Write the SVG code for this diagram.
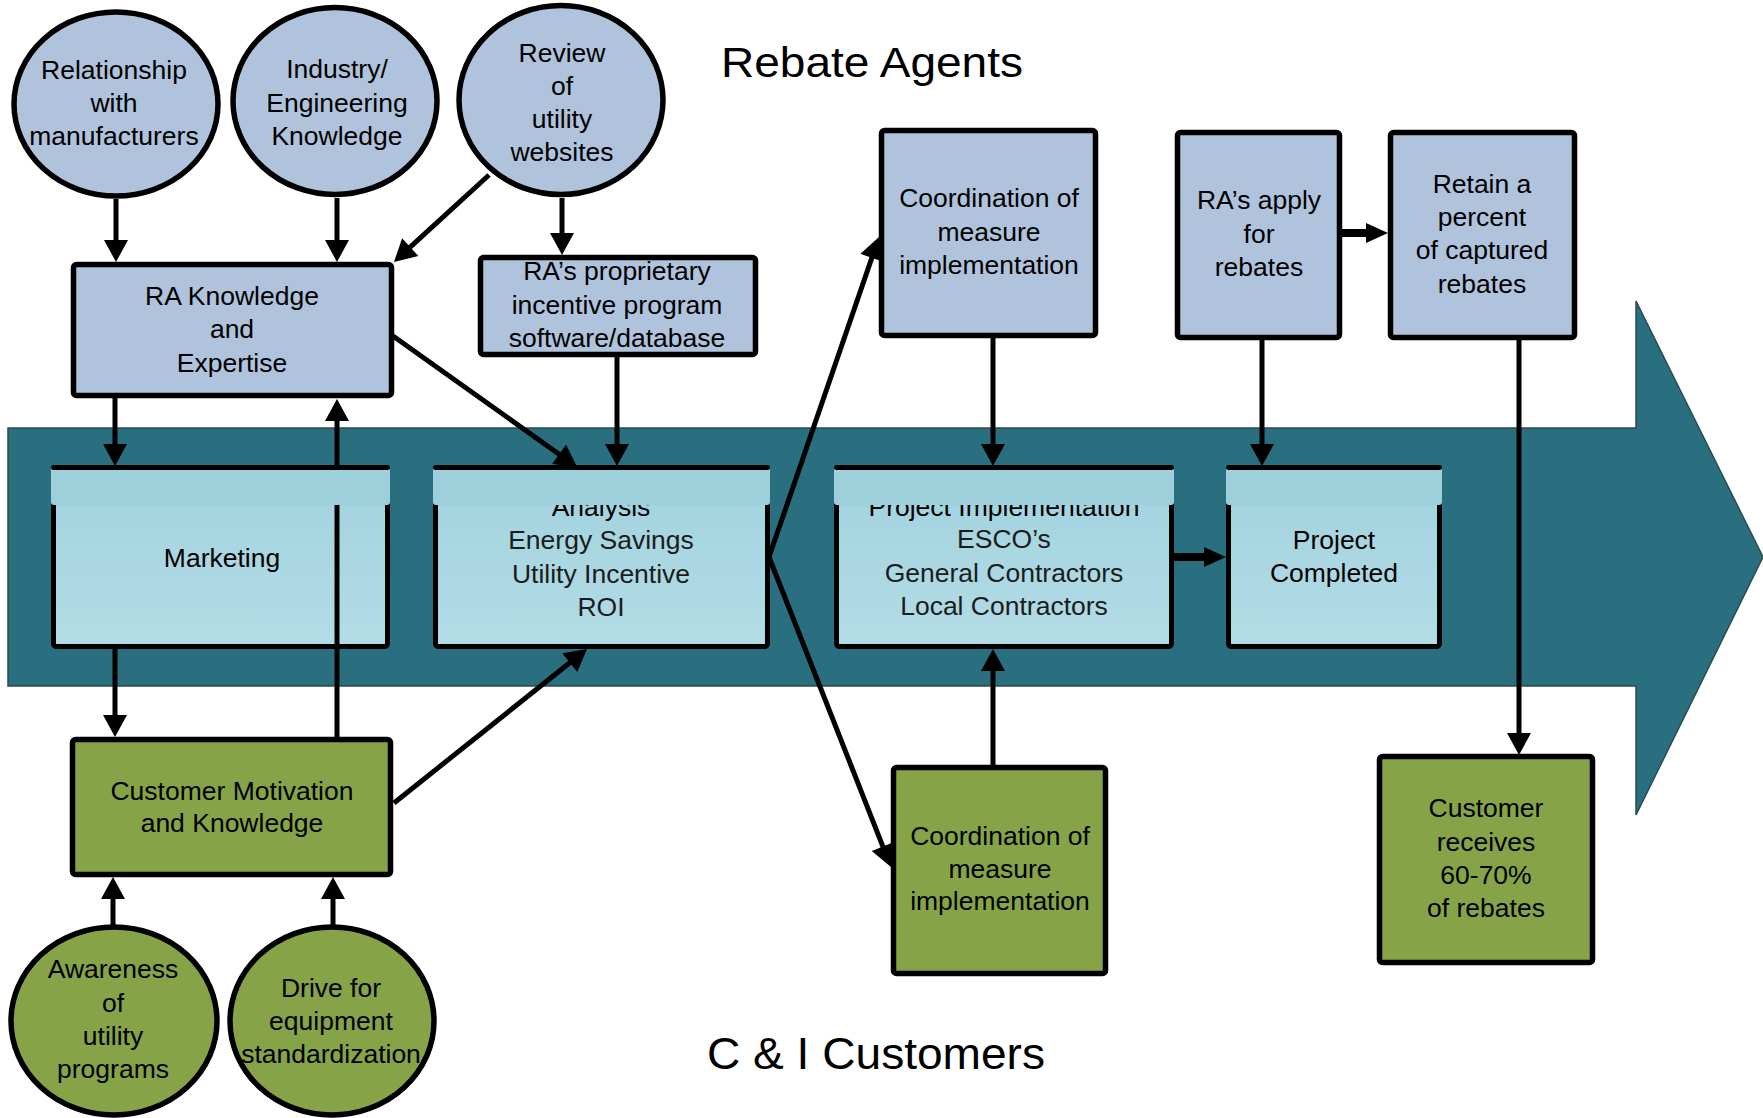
<svg xmlns="http://www.w3.org/2000/svg" width="1763" height="1118" viewBox="0 0 1763 1118">
<style>
.t{font-family:"Liberation Sans",Arial,sans-serif;font-size:26.5px;text-anchor:middle;fill:#000}
.lt{fill:#1c1c1c}
.big{font-family:"Liberation Sans",Arial,sans-serif;text-anchor:middle;fill:#000}
.sb{fill:#B0C3DC;stroke:#000;stroke-width:5.5}
.gr{fill:#86A447;stroke:#000;stroke-width:5.5}
.body{fill:url(#lg);stroke:#000;stroke-width:5}
.band{fill:#9ED0DC}
.cap{fill:#000}
.c{fill:none;stroke:#000;stroke-width:5}
.ck{fill:none;stroke:#000;stroke-width:8}
</style>
<defs>
<linearGradient id="lg" x1="0" y1="0" x2="0" y2="1">
<stop offset="0" stop-color="#A0D2DE"/>
<stop offset="1" stop-color="#B3DCE6"/>
</linearGradient>
<marker id="ah" markerUnits="userSpaceOnUse" markerWidth="24" markerHeight="24" refX="6" refY="12" orient="auto" overflow="visible"><path d="M0,0 L22,12 L0,24 Z" fill="#000"/></marker>
<marker id="ahT" markerUnits="userSpaceOnUse" markerWidth="22" markerHeight="20" refX="6" refY="10" orient="auto" overflow="visible"><path d="M0,0 L22,10 L0,20 Z" fill="#000"/></marker>
</defs>

<g id="flow-arrow">
<polygon points="8,428 1636,428 1636,301 1763,557 1636,815 1636,686 8,686" fill="#2A6F80" stroke="#2b4a52" stroke-width="1.5"/>
</g>

<text id="title-ra" class="big" x="872" y="77" font-size="43" textLength="302" lengthAdjust="spacingAndGlyphs">Rebate Agents</text>
<text id="title-ci" class="big" x="876" y="1069" font-size="45" textLength="338" lengthAdjust="spacingAndGlyphs">C &amp; I Customers</text>

<g id="n-relationship">
<ellipse class="sb" cx="116" cy="104" rx="102" ry="92"/>
<text class="t" x="114" y="79">Relationship</text>
<text class="t" x="114" y="112">with</text>
<text class="t" x="114" y="145">manufacturers</text>
</g>
<g id="n-industry">
<ellipse class="sb" cx="335" cy="101" rx="102" ry="93.5"/>
<text class="t" x="337" y="78">Industry/</text>
<text class="t" x="337" y="112">Engineering</text>
<text class="t" x="337" y="145">Knowledge</text>
</g>
<g id="n-review">
<ellipse class="sb" cx="561" cy="100" rx="102" ry="94.5"/>
<text class="t" x="562" y="62">Review</text>
<text class="t" x="562" y="95">of</text>
<text class="t" x="562" y="128">utility</text>
<text class="t" x="562" y="161">websites</text>
</g>
<g id="n-ra-knowledge">
<rect class="sb" x="73.5" y="264.5" width="318" height="131" rx="3"/>
<text class="t" x="232" y="305">RA Knowledge</text>
<text class="t" x="232" y="338">and</text>
<text class="t" x="232" y="372">Expertise</text>
</g>
<g id="n-ra-software">
<rect class="sb" x="480.5" y="257.5" width="275" height="97" rx="3"/>
<text class="t" x="617" y="280" font-size="27.5">RA’s proprietary</text>
<text class="t" x="617" y="314" font-size="27.5">incentive program</text>
<text class="t" x="617" y="347" font-size="27.5">software/database</text>
</g>
<g id="n-coord-top">
<rect class="sb" x="881.5" y="130.5" width="214" height="205" rx="3"/>
<text class="t" x="989" y="207">Coordination of</text>
<text class="t" x="989" y="241">measure</text>
<text class="t" x="989" y="274">implementation</text>
</g>
<g id="n-ra-apply">
<rect class="sb" x="1177.5" y="132.5" width="162" height="205" rx="3"/>
<text class="t" x="1259" y="209">RA’s apply</text>
<text class="t" x="1259" y="243">for</text>
<text class="t" x="1259" y="276">rebates</text>
</g>
<g id="n-retain">
<rect class="sb" x="1390.5" y="132.5" width="184" height="205" rx="3"/>
<text class="t" x="1482" y="193">Retain a</text>
<text class="t" x="1482" y="226">percent</text>
<text class="t" x="1482" y="259">of captured</text>
<text class="t" x="1482" y="293">rebates</text>
</g>

<g id="n-marketing">
<rect class="body" x="53.5" y="468.5" width="334" height="178" rx="3"/>
<text class="t" x="222" y="567">Marketing</text>
<rect class="band" x="51" y="466" width="339" height="39" rx="3"/>
<rect class="cap" x="51" y="465" width="339" height="5" rx="2.5"/>
</g>
<g id="n-analysis">
<rect class="body" x="435.5" y="468.5" width="332" height="178" rx="3"/>
<text class="t" x="601" y="516">Analysis</text>
<text class="t lt" x="601" y="549">Energy Savings</text>
<text class="t lt" x="601" y="583">Utility Incentive</text>
<text class="t lt" x="601" y="616">ROI</text>
<rect class="band" x="433" y="466" width="337" height="39" rx="3"/>
<rect class="cap" x="433" y="465" width="337" height="5" rx="2.5"/>
</g>
<g id="n-project-impl">
<rect class="body" x="836.5" y="468.5" width="335" height="178" rx="3"/>
<text class="t" x="1004" y="516">Project Implementation</text>
<text class="t lt" x="1004" y="548">ESCO’s</text>
<text class="t lt" x="1004" y="582">General Contractors</text>
<text class="t lt" x="1004" y="615">Local Contractors</text>
<rect class="band" x="834" y="466" width="340" height="39" rx="3"/>
<rect class="cap" x="834" y="465" width="340" height="5" rx="2.5"/>
</g>
<g id="n-completed">
<rect class="body" x="1228.5" y="468.5" width="211" height="178" rx="3"/>
<text class="t" x="1334" y="549">Project</text>
<text class="t" x="1334" y="582">Completed</text>
<rect class="band" x="1226" y="466" width="216" height="39" rx="3"/>
<rect class="cap" x="1226" y="465" width="216" height="5" rx="2.5"/>
</g>

<g id="n-cust-motivation">
<rect class="gr" x="72.5" y="739.5" width="318" height="135" rx="3"/>
<text class="t" x="232" y="800">Customer Motivation</text>
<text class="t" x="232" y="832">and Knowledge</text>
</g>
<g id="n-coord-bottom">
<rect class="gr" x="893.5" y="767.5" width="212" height="206" rx="3"/>
<text class="t" x="1000" y="845">Coordination of</text>
<text class="t" x="1000" y="878">measure</text>
<text class="t" x="1000" y="910">implementation</text>
</g>
<g id="n-cust-receives">
<rect class="gr" x="1379.5" y="756.5" width="213" height="206" rx="3"/>
<text class="t" x="1486" y="817">Customer</text>
<text class="t" x="1486" y="851">receives</text>
<text class="t" x="1486" y="884">60-70%</text>
<text class="t" x="1486" y="917">of rebates</text>
</g>
<g id="n-awareness">
<ellipse class="gr" cx="114" cy="1021" rx="103" ry="94"/>
<text class="t" x="113" y="978">Awareness</text>
<text class="t" x="113" y="1012">of</text>
<text class="t" x="113" y="1045">utility</text>
<text class="t" x="113" y="1078">programs</text>
</g>
<g id="n-drive">
<ellipse class="gr" cx="332" cy="1021" rx="102" ry="94"/>
<text class="t" x="331" y="997">Drive for</text>
<text class="t" x="331" y="1030">equipment</text>
<text class="t" x="331" y="1063">standardization</text>
</g>

<g id="connectors">
<path class="c" d="M116,199 L116,246" marker-end="url(#ah)"/>
<path class="c" d="M337,198 L337,246" marker-end="url(#ah)"/>
<path class="c" d="M489,175 L405.8,251.2" marker-end="url(#ah)"/>
<path class="c" d="M562,198 L562,239" marker-end="url(#ah)"/>
<path class="c" d="M115,394 L115,450" marker-end="url(#ah)"/>
<path class="c" d="M337,737 L337,505 M337,467 L337,415" marker-end="url(#ah)"/>
<path class="c" d="M115,644 L115,721" marker-end="url(#ah)"/>
<path class="c" d="M393,336 L564,457.7" marker-end="url(#ah)"/>
<path class="c" d="M617,357 L617,450" marker-end="url(#ah)"/>
<path class="c" d="M394,803 L574.5,659" marker-end="url(#ah)"/>
<path class="c" d="M769,557 L873.8,252.1" marker-end="url(#ah)"/>
<path class="c" d="M769,557 L885.1,852.1" marker-end="url(#ah)"/>
<path class="c" d="M993,338 L993,450" marker-end="url(#ah)"/>
<path class="c" d="M993,766 L993,665" marker-end="url(#ah)"/>
<path class="ck" d="M1172,557 L1210,557" marker-end="url(#ahT)"/>
<path class="c" d="M1262,339 L1262,450" marker-end="url(#ah)"/>
<path class="ck" d="M1341,233 L1372,233" marker-end="url(#ahT)"/>
<path class="c" d="M1519,339 L1519,739" marker-end="url(#ah)"/>
<path class="c" d="M113,925 L113,893" marker-end="url(#ah)"/>
<path class="c" d="M333,926 L333,893" marker-end="url(#ah)"/>
</g>
</svg>
